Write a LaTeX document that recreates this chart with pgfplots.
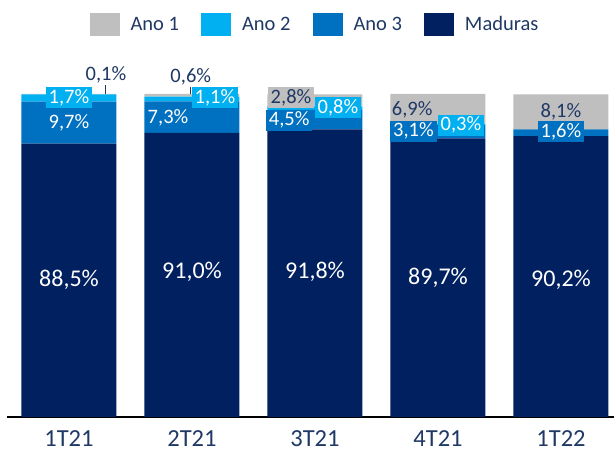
\documentclass[border=0pt]{standalone}
\usepackage{pgfplots}
\pgfplotsset{compat=1.18}
\usepackage{fontspec}
\setmainfont{Carlito}
\definecolor{cAnoA}{HTML}{BFBFBF}
\definecolor{cAnoB}{HTML}{00B0F0}
\definecolor{cAnoC}{HTML}{0070C0}
\definecolor{cMad}{HTML}{002060}
\definecolor{txt}{HTML}{1F3864}
\tikzset{
  lbl/.style={font=\fontsize{20.5}{22}\selectfont, inner xsep=3pt, inner ysep=2pt, minimum height=21pt},
  big/.style={font=\fontsize{24}{26}\selectfont, text=white},
}
\pgfplotsset{myleg/.style={legend image code/.code={\fill[##1] (0pt,-11.5pt) rectangle (30pt,11.5pt);}}}
\begin{document}
\begin{tikzpicture}
\path[use as bounding box] (-7pt,-32pt) rectangle (607pt,417pt);
\begin{axis}[
  scale only axis, width=607pt, height=323pt,
  xmin=-0.504, xmax=4.431, ymin=25, ymax=100,
  ybar stacked, bar width=95pt,
  axis x line=bottom, axis y line=none,
  x axis line style={line width=1.5pt, -, color=black},
  xtick={0,1,2,3,4}, xticklabels={1T21,2T21,3T21,4T21,1T22},
  major tick length=0pt,
  xticklabel style={font=\fontsize{24.5}{26}\selectfont, text=txt, inner ysep=0pt, yshift=-13pt},
  /pgf/number format/assume math mode=true,
  legend columns=4, reverse legend,
  legend style={at={(0.5058,1.2152)}, anchor=center, draw=none, fill=none,
    font=\fontsize{20.5}{22}\selectfont, text=txt,
    /tikz/every odd column/.append style={column sep=11pt},
    /tikz/every even column/.append style={column sep=22pt},
    nodes={inner xsep=0pt, inner ysep=0pt}},
]
\addplot[fill=cMad, draw=none, myleg] coordinates {(0,88.5) (1,91.0) (2,91.8) (3,89.7) (4,90.2)};
\addlegendentry{Maduras}
\addplot[fill=cAnoC, draw=none, myleg] coordinates {(0,9.7) (1,7.3) (2,4.5) (3,3.1) (4,1.6)};
\addlegendentry{Ano 3}
\addplot[fill=cAnoB, draw=none, myleg] coordinates {(0,1.7) (1,1.1) (2,0.8) (3,0.3) (4,0.0)};
\addlegendentry{Ano 2}
\addplot[fill=cAnoA, draw=none, myleg] coordinates {(0,0.1) (1,0.6) (2,2.8) (3,6.9) (4,8.1)};
\addlegendentry{Ano 1}

% label anchor coordinates
\coordinate (s1a) at (axis cs:0.30,100);   \coordinate (s1b) at (axis cs:0.30,102.1);
\coordinate (a1) at (axis cs:0.30,104.4);
\coordinate (b1) at (axis cs:0,99.07);
\coordinate (c1) at (axis cs:0,93.3);
\coordinate (d1) at (axis cs:0,56.8);
\coordinate (s2a) at (axis cs:0.984,100);  \coordinate (s2b) at (axis cs:0.984,101.6);
\coordinate (a2) at (axis cs:0.99,103.9);
\coordinate (b2) at (axis cs:1.187,99.07);
\coordinate (c2) at (axis cs:0.805,94.4);
\coordinate (d2) at (axis cs:1,58.7);
\coordinate (a3) at (axis cs:1.805,99.07);
\coordinate (b3) at (axis cs:2.187,96.75);
\coordinate (c3) at (axis cs:1.79,93.96);
\coordinate (d3) at (axis cs:2,58.7);
\coordinate (a4) at (axis cs:2.79,96.3);
\coordinate (c4) at (axis cs:2.80,91.4);
\coordinate (b4) at (axis cs:3.187,92.8);
\coordinate (d4) at (axis cs:3,57.3);
\coordinate (a5) at (axis cs:4,95.8);
\coordinate (c5) at (axis cs:4,91.2);
\coordinate (d5) at (axis cs:4,56.8);
\end{axis}
% 1T21
\draw[txt, line width=1pt] (s1a) -- (s1b);
\node[lbl, text=txt] at (a1) {0,1\%};
\node[lbl, fill=cAnoB, text=white] at (b1) {1,7\%};
\node[lbl, text=white] at (c1) {9,7\%};
\node[big] at (d1) {88,5\%};
% 2T21
\draw[txt, line width=1pt] (s2a) -- (s2b);
\node[lbl, text=txt] at (a2) {0,6\%};
\node[lbl, fill=cAnoB, text=white] at (b2) {1,1\%};
\node[lbl, text=white] at (c2) {7,3\%};
\node[big] at (d2) {91,0\%};
% 3T21
\node[lbl, fill=cAnoA, text=txt] at (a3) {2,8\%};
\node[lbl, fill=cAnoB, text=white] at (b3) {0,8\%};
\node[lbl, fill=cAnoC, text=white] at (c3) {4,5\%};
\node[big] at (d3) {91,8\%};
% 4T21
\node[lbl, text=txt] at (a4) {6,9\%};
\node[lbl, fill=cAnoC, text=white] at (c4) {3,1\%};
\node[lbl, fill=cAnoB, text=white] at (b4) {0,3\%};
\node[big] at (d4) {89,7\%};
% 1T22
\node[lbl, text=txt] at (a5) {8,1\%};
\node[lbl, fill=cAnoC, text=white] at (c5) {1,6\%};
\node[big] at (d5) {90,2\%};
\end{tikzpicture}
\end{document}
